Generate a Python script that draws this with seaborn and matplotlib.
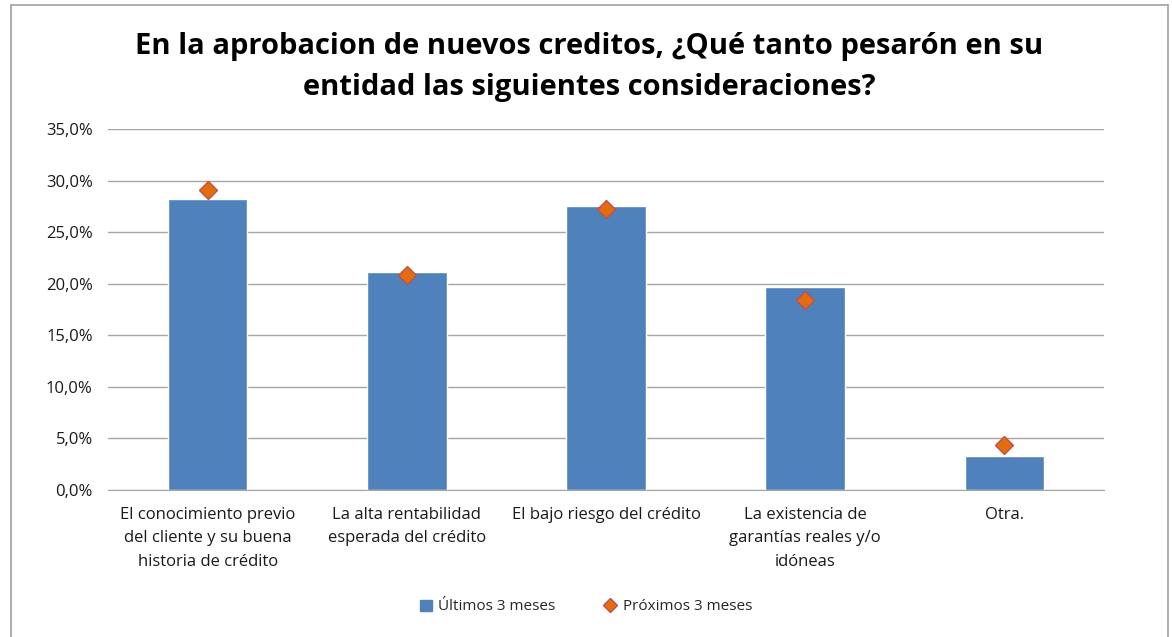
import matplotlib
matplotlib.use("Agg")
import matplotlib.pyplot as plt
import seaborn as sns
import pandas as pd
from matplotlib.patches import Patch
from matplotlib.lines import Line2D
from matplotlib.ticker import FuncFormatter

categorias = [
    "El conocimiento previo\ndel cliente y su buena\nhistoria de crédito",
    "La alta rentabilidad\nesperada del crédito",
    "El bajo riesgo del crédito",
    "La existencia de\ngarantías reales y/o\nidóneas",
    "Otra.",
]
ultimos = [28.2, 21.1, 27.5, 19.7, 3.3]
proximos = [29.1, 20.8, 27.2, 18.4, 4.4]

df = pd.DataFrame({"categoria": categorias, "ultimos": ultimos, "proximos": proximos})

sns.set_style("white")
plt.rcParams["font.family"] = ["Open Sans", "DejaVu Sans"]

fig = plt.figure(figsize=(11.72, 6.37), dpi=100)
ax = fig.add_axes([108 / 1172, 1 - 490 / 637, 996 / 1172, 361 / 637])

azul = "#4F81BD"
naranja = "#E46C0A"

sns.barplot(data=df, x="categoria", y="ultimos", color=azul, width=0.4,
            saturation=1, ax=ax, zorder=2)
sns.pointplot(data=df, x="categoria", y="proximos", color=naranja, markers="D",
              linestyle="none", markersize=9, markeredgecolor="#C0504D",
              markeredgewidth=1, ax=ax, zorder=3)

ax.set_ylim(0, 35)
ax.set_yticks(range(0, 36, 5))
ax.yaxis.set_major_formatter(FuncFormatter(lambda v, p: f"{v:.1f}%".replace(".", ",")))
ax.set_xlim(-0.5, 4.5)
ax.grid(axis="y", color="#A6A6A6", linewidth=1, zorder=0)
ax.set_axisbelow(True)
for s in ["left", "right", "top"]:
    ax.spines[s].set_visible(False)
ax.spines["bottom"].set_color("#A6A6A6")
ax.set_xlabel("")
ax.set_ylabel("")
ax.tick_params(axis="y", labelsize=12, colors="#1a1a1a", length=0, pad=11)
ax.tick_params(axis="x", labelsize=12, colors="#1a1a1a", length=0, pad=12)
plt.setp(ax.get_xticklabels(), linespacing=1.65)

fig.text(0.503, 1 - 67 / 637,
         "En la aprobacion de nuevos creditos, ¿Qué tanto pesarón en su\nentidad las siguientes consideraciones?",
         ha="center", va="center", fontsize=21, fontweight="bold",
         linespacing=1.55, color="black")

handles = [
    Patch(facecolor=azul, edgecolor=azul, label="Últimos 3 meses"),
    Line2D([0], [0], marker="D", color="none", markerfacecolor=naranja,
           markeredgecolor="#C0504D", markersize=7, label="Próximos 3 meses"),
]
fig.legend(handles=handles, loc="center", bbox_to_anchor=(0.5, 1 - 607 / 637),
           ncol=2, frameon=False, fontsize=11, handlelength=0.8,
           handletextpad=0.4, columnspacing=3.2)

# chart border
borde = "#A0A0A0"
fig.add_artist(Line2D([11 / 1172, 11 / 1172], [0, 1 - 5 / 637], color=borde, lw=1.2))
fig.add_artist(Line2D([1168 / 1172, 1168 / 1172], [0, 1 - 5 / 637], color=borde, lw=1.2))
fig.add_artist(Line2D([11 / 1172, 1168 / 1172], [1 - 5 / 637, 1 - 5 / 637], color=borde, lw=1.2))

fig.savefig("out.png", dpi=100)
